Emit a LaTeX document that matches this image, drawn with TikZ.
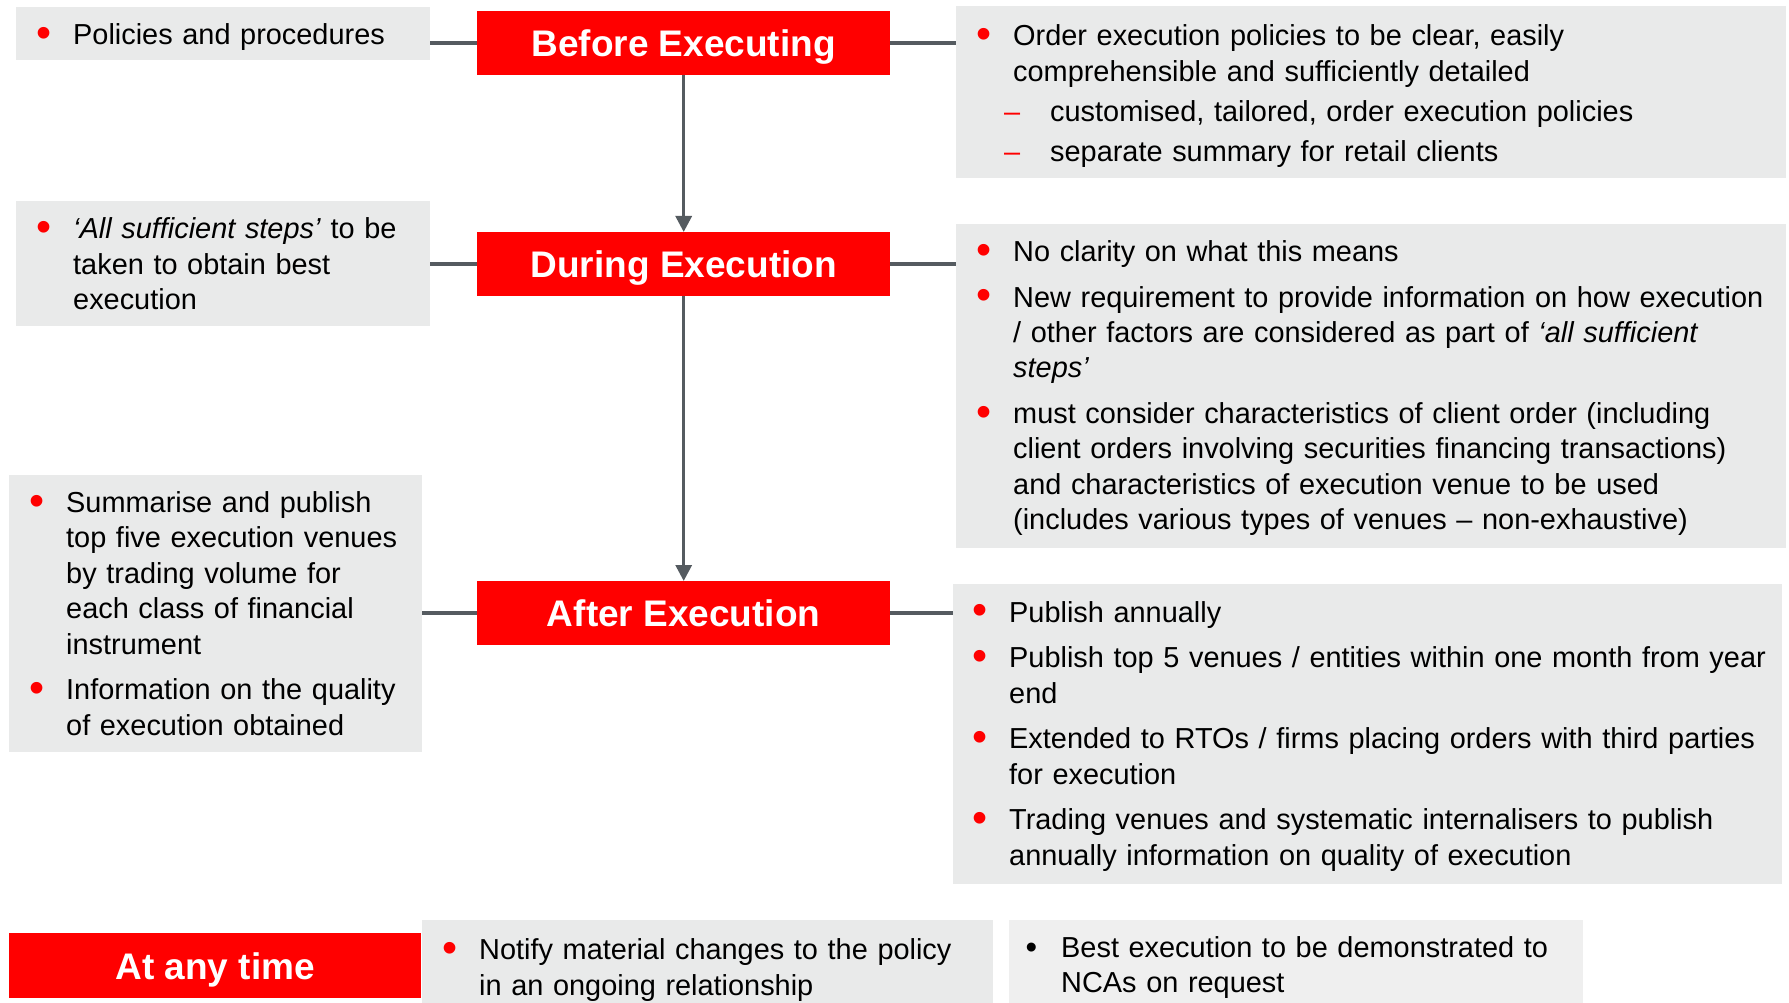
\documentclass[tikz,border=0pt]{standalone}
\usepackage{fontspec}
\setmainfont{Liberation Sans}
\usetikzlibrary{arrows.meta}
\definecolor{bred}{HTML}{FF0000}
\definecolor{boxgray}{HTML}{E9EAEA}
\definecolor{boxlight}{HTML}{EFEFEF}
\definecolor{conngray}{HTML}{555B60}
\hyphenpenalty=10000
\exhyphenpenalty=10000
\newcommand{\redbul}{\makebox[35pt][l]{\hspace*{-1.5pt}\raisebox{-2.8pt}{\fontsize{43pt}{43pt}\selectfont\textcolor{bred}{\textbullet}}}}
\newcommand{\blkbul}{\makebox[35pt][l]{\hspace*{-0.5pt}\raisebox{-0.8pt}{\fontsize{33pt}{33pt}\selectfont\textcolor{black}{\textbullet}}}}
\newcommand{\bitem}[1]{\hangindent=35pt\hangafter=1\noindent\strut\redbul#1\par}
\newcommand{\kitem}[1]{\hangindent=35pt\hangafter=1\noindent\strut\blkbul#1\par}
\newcommand{\ditem}[1]{\hangindent=72pt\hangafter=1\noindent\strut\hspace*{26pt}\makebox[46pt][l]{\textcolor{bred}{–}}#1\par}
\begin{document}
\begin{tikzpicture}[x=1pt,y=-1pt,
  graybox/.style={fill=boxgray, draw=none, inner sep=0pt, anchor=north west},
  stagebox/.style={fill=bred, text=white, font=\fontsize{37pt}{44pt}\selectfont\bfseries, inner sep=0pt, anchor=north west, minimum width=413pt, minimum height=64pt, text height=26.6pt, text depth=0pt},
  bodytext/.style={inner sep=0pt, anchor=north west, align=left, font=\fontsize{28.9pt}{35.4pt}\selectfont},
  conn/.style={draw=conngray, line width=3.8pt},
  flow/.style={draw=conngray, line width=3.2pt, -{Triangle[width=16pt,length=16pt]}}]
\useasboundingbox (0,0) rectangle (1789,1003);
% boxes
\node[graybox, minimum width=414pt, minimum height=53pt] (L1) at (16,7) {};
\node[stagebox] (BE) at (477,11) {Before Executing};
\node[graybox, minimum width=830pt, minimum height=172pt] (R1) at (956,6) {};
\node[graybox, minimum width=414pt, minimum height=125pt] (L2) at (16,201) {};
\node[stagebox] (DE) at (477,232) {During Execution};
\node[graybox, minimum width=830pt, minimum height=324pt] (R2) at (956,224) {};
\node[graybox, minimum width=413pt, minimum height=277pt] (L3) at (9,475) {};
\node[stagebox] (AE) at (477,581) {After Execution};
\node[graybox, minimum width=829pt, minimum height=300pt] (R3) at (953,584) {};
\node[stagebox, minimum width=412pt, minimum height=65pt] (AT) at (9,933) {At any time};
\node[graybox, minimum width=571pt, minimum height=83pt] (N1) at (422,920) {};
\node[graybox, fill=boxlight, minimum width=574pt, minimum height=83pt] (B1) at (1009,920) {};
% connectors
\draw[conn] (BE.west -| L1.east) -- (BE.west);
\draw[conn] (BE.east) -- (BE.east -| R1.west);
\draw[conn] (DE.west -| L2.east) -- (DE.west);
\draw[conn] (DE.east) -- (DE.east -| R2.west);
\draw[conn] (AE.west -| L3.east) -- (AE.west);
\draw[conn] (AE.east) -- (AE.east -| R3.west);
\draw[flow] (BE.south) -- (DE.north);
\draw[flow] (DE.south) -- (AE.north);
% texts
\node[bodytext, text width=400pt] (L1t) at (38,19.7) {\bitem{Policies and procedures}};
\node[bodytext, text width=820pt] (R1t) at (978,20.8) {\setlength{\parskip}{5pt}%
\bitem{Order execution policies to be clear, easily\newline comprehensible and sufficiently detailed}%
\ditem{customised, tailored, order execution policies}%
\ditem{separate summary for retail clients}};
\node[bodytext, text width=400pt] (L2t) at (38,213.7) {\bitem{\textit{‘All sufficient steps’} to be\newline taken to obtain best\newline execution}};
\node[bodytext, text width=820pt] (R2t) at (978,236.5) {\setlength{\parskip}{10.2pt}%
\bitem{No clarity on what this means}%
\bitem{New requirement to provide information on how execution\newline / other factors are considered as part of \textit{‘all sufficient\newline steps’}}%
\bitem{must consider characteristics of client order (including\newline client orders involving securities financing transactions)\newline and characteristics of execution venue to be used\newline (includes various types of venues – non-exhaustive)}};
\node[bodytext, text width=400pt] (L3t) at (31,487.5) {\setlength{\parskip}{10.2pt}%
\bitem{Summarise and publish\newline top five execution venues\newline by trading volume for\newline each class of financial\newline instrument}%
\bitem{Information on the quality\newline of execution obtained}};
\node[bodytext, text width=820pt] (R3t) at (974,597.1) {\setlength{\parskip}{10.2pt}%
\bitem{Publish annually}%
\bitem{Publish top 5 venues / entities within one month from year\newline end}%
\bitem{Extended to RTOs / firms placing orders with third parties\newline for execution}%
\bitem{Trading venues and systematic internalisers to publish\newline annually information on quality of execution}};
\node[bodytext, text width=540pt] (N1t) at (444,934.8) {\bitem{Notify material changes to the policy\newline in an ongoing relationship}};
\node[bodytext, text width=540pt] (B1t) at (1026,932.5) {\kitem{Best execution to be demonstrated to\newline NCAs on request}};
\end{tikzpicture}
\end{document}
